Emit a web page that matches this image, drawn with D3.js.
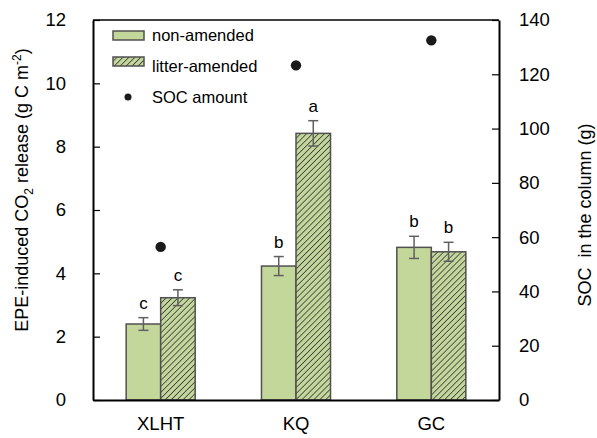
<!DOCTYPE html>
<html>
<head>
<meta charset="utf-8">
<script src="https://cdn.jsdelivr.net/npm/d3@7"></script>
<style>
    body { margin: 0; background: #fff; }
    svg text { font-family: "Liberation Sans", Arial, sans-serif; fill: #000; }
</style>
</head>
<body>
<div id="chart"></div>
<script>
"use strict";

const categories = ["XLHT", "KQ", "GC"];
const seriesNames = ["non-amended", "litter-amended"];
const nonAmended = [2.4, 4.23, 4.82];
const nonAmendedErr = [0.2, 0.3, 0.35];
const litterAmended = [3.23, 8.42, 4.68];
const litterAmendedErr = [0.25, 0.4, 0.3];
const nonAmendedLetters = ["c", "b", "b"];
const litterAmendedLetters = ["c", "a", "b"];
const socAmount = [56.4, 123.3, 132.5];
const leftTicks = [0, 2, 4, 6, 8, 10, 12];
const rightTicks = [0, 20, 40, 60, 80, 100, 120, 140];

const FILL = "#c4d79b";
const EDGE = "#505050";

const W = 597, H = 438;
const margin = {top: 20, right: 98, bottom: 38, left: 93};
const innerW = W - margin.left - margin.right;
const innerH = H - margin.top - margin.bottom;

const svg = d3.select("#chart").append("svg").attr("width", W).attr("height", H);

const defs = svg.append("defs");
const pat = defs.append("pattern")
    .attr("id", "hatch")
    .attr("patternUnits", "userSpaceOnUse")
    .attr("width", 4.2)
    .attr("height", 4.2)
    .attr("patternTransform", "rotate(45)");
pat.append("rect").attr("width", 4.2).attr("height", 4.2).attr("fill", FILL);
pat.append("line")
    .attr("x1", 0).attr("y1", 0).attr("x2", 0).attr("y2", 4.2)
    .attr("stroke", "#444").attr("stroke-width", 1.7);

const g = svg.append("g").attr("transform", "translate(" + margin.left + "," + margin.top + ")");

const x = d3.scaleBand().domain(categories).range([0, innerW]).padding(0);
const yL = d3.scaleLinear().domain([0, 12]).range([innerH, 0]);
const yR = d3.scaleLinear().domain([0, 140]).range([innerH, 0]);
const groupW = x.bandwidth() * 0.51;
const xs = d3.scaleBand().domain(seriesNames).range([-groupW / 2, groupW / 2]);

// bars
const data = [];
categories.forEach(function (c, i) {
    data.push({cat: c, s: seriesNames[0], v: nonAmended[i], e: nonAmendedErr[i], l: nonAmendedLetters[i]});
    data.push({cat: c, s: seriesNames[1], v: litterAmended[i], e: litterAmendedErr[i], l: litterAmendedLetters[i]});
});
function cx(d) {
    return x(d.cat) + x.bandwidth() / 2 + xs(d.s) + xs.bandwidth() / 2;
}

g.selectAll(".bar").data(data).enter().append("rect")
    .attr("class", "bar")
    .attr("x", function (d) { return x(d.cat) + x.bandwidth() / 2 + xs(d.s); })
    .attr("y", function (d) { return yL(d.v); })
    .attr("width", xs.bandwidth())
    .attr("height", function (d) { return yL(0) - yL(d.v); })
    .attr("fill", function (d) { return d.s === seriesNames[0] ? FILL : "url(#hatch)"; })
    .attr("stroke", EDGE)
    .attr("stroke-width", 1.5);

// error bars
const eb = g.selectAll(".err").data(data).enter().append("g").attr("class", "err")
    .attr("stroke", "#606060").attr("stroke-width", 1.5);
eb.append("line")
    .attr("x1", cx).attr("x2", cx)
    .attr("y1", function (d) { return yL(d.v + d.e); })
    .attr("y2", function (d) { return yL(d.v - d.e); });
eb.append("line")
    .attr("x1", function (d) { return cx(d) - 5; }).attr("x2", function (d) { return cx(d) + 5; })
    .attr("y1", function (d) { return yL(d.v + d.e); })
    .attr("y2", function (d) { return yL(d.v + d.e); });
eb.append("line")
    .attr("x1", function (d) { return cx(d) - 5; }).attr("x2", function (d) { return cx(d) + 5; })
    .attr("y1", function (d) { return yL(d.v - d.e); })
    .attr("y2", function (d) { return yL(d.v - d.e); });

// significance letters
g.selectAll(".letter").data(data).enter().append("text")
    .attr("class", "letter")
    .attr("x", cx)
    .attr("y", function (d) { return yL(d.v + d.e) - 9; })
    .attr("text-anchor", "middle")
    .style("font-size", "17px")
    .text(function (d) { return d.l; });

// SOC dots
g.selectAll(".soc").data(categories).enter().append("circle")
    .attr("class", "soc")
    .attr("cx", function (d) { return x(d) + x.bandwidth() / 2; })
    .attr("cy", function (d, i) { return yR(socAmount[i]); })
    .attr("r", 5.2)
    .attr("fill", "#1a1a1a");

// axes
const axL = g.append("g").call(d3.axisLeft(yL).tickValues(leftTicks).tickSizeInner(-7).tickSizeOuter(0).tickPadding(27));
const axR = g.append("g").attr("transform", "translate(" + innerW + ",0)")
    .call(d3.axisRight(yR).tickValues(rightTicks).tickSizeInner(-7).tickSizeOuter(0).tickPadding(20));
const axB = g.append("g").attr("transform", "translate(0," + innerH + ")")
    .call(d3.axisBottom(x).tickSize(0).tickPadding(17));
[axL, axR, axB].forEach(function (a) {
    a.selectAll("path").attr("stroke", "#000").attr("stroke-width", 2);
    a.selectAll("line").attr("stroke", "#000").attr("stroke-width", 1.2);
    a.selectAll("text").style("font-size", "18.5px").style("font-family", "Liberation Sans, Arial, sans-serif").attr("fill", "#000");
});
g.append("line").attr("x1", 0).attr("x2", innerW).attr("y1", 0).attr("y2", 0)
    .attr("stroke", "#000").attr("stroke-width", 1.5);

// axis titles
const tl = svg.append("text")
    .attr("transform", "translate(28,190) rotate(-90)")
    .attr("text-anchor", "middle")
    .style("font-size", "18px");
tl.append("tspan").text("EPE-induced CO");
tl.append("tspan").attr("dy", 5).style("font-size", "12px").text("2");
tl.append("tspan").attr("dy", -5).text(" release (g C m");
tl.append("tspan").attr("dy", -7).style("font-size", "12px").text("-2");
tl.append("tspan").attr("dy", 7).text(")");

svg.append("text")
    .attr("transform", "translate(585,215) rotate(-90)")
    .attr("text-anchor", "middle")
    .attr("dy", "0.35em")
    .attr("xml:space", "preserve")
    .style("white-space", "pre")
    .style("font-size", "18px")
    .text("SOC  in the column (g)");

// legend
const leg = svg.append("g").attr("transform", "translate(113,31)");
leg.append("rect").attr("x", 0).attr("y", 0).attr("width", 31).attr("height", 9)
    .attr("fill", FILL).attr("stroke", EDGE).attr("stroke-width", 1.5);
leg.append("rect").attr("x", 0).attr("y", 26).attr("width", 31).attr("height", 9)
    .attr("fill", "url(#hatch)").attr("stroke", EDGE).attr("stroke-width", 1.5);
leg.append("circle").attr("cx", 15).attr("cy", 66).attr("r", 3.5).attr("fill", "#1a1a1a");
const legText = ["non-amended", "litter-amended", "SOC amount"];
leg.selectAll(".lt").data(legText).enter().append("text")
    .attr("class", "lt")
    .attr("x", 39)
    .attr("y", function (d, i) { return 4.5 + i * 31; })
    .attr("dy", "0.35em")
    .style("font-size", "16.5px")
    .text(function (d) { return d; });
</script>
</body>
</html>
